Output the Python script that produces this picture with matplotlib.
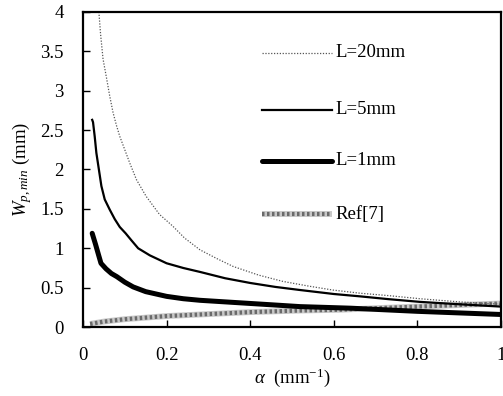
import matplotlib
matplotlib.use("Agg")
import matplotlib.pyplot as plt

plt.rcParams['font.family'] = ['Liberation Serif', 'DejaVu Serif']
plt.rcParams['mathtext.fontset'] = 'custom'
plt.rcParams['mathtext.rm'] = 'Liberation Serif'
plt.rcParams['mathtext.it'] = 'Liberation Serif:italic'

# ---- data ----
x_l20 = [0.038, 0.042, 0.048, 0.056, 0.064, 0.072, 0.08, 0.088, 0.10, 0.112, 0.128, 0.151,
         0.183, 0.215, 0.243, 0.28, 0.32, 0.359, 0.42, 0.478, 0.54, 0.598, 0.663, 0.73,
         0.806, 0.90, 1.0]
y_l20 = [4.0, 3.72, 3.40, 3.17, 2.93, 2.72, 2.56, 2.42, 2.25, 2.08, 1.87, 1.66,
         1.43, 1.28, 1.13, 0.98, 0.87, 0.77, 0.66, 0.58, 0.52, 0.47, 0.43, 0.40,
         0.36, 0.32, 0.29]

x_l5 = [0.022, 0.024, 0.028, 0.032, 0.038, 0.044, 0.052, 0.064, 0.076, 0.088, 0.102, 0.116,
        0.132, 0.16, 0.2, 0.24, 0.28, 0.34, 0.40, 0.46, 0.52, 0.6, 0.663, 0.73,
        0.806, 0.9, 1.0]
y_l5 = [2.63, 2.60, 2.42, 2.21, 2.0, 1.79, 1.62, 1.49, 1.37, 1.27, 1.19, 1.10,
        1.0, 0.91, 0.81, 0.75, 0.70, 0.62, 0.56, 0.51, 0.47, 0.42, 0.39, 0.355,
        0.32, 0.29, 0.26]

x_l1 = [0.022, 0.03, 0.037, 0.043, 0.055, 0.068, 0.081, 0.1, 0.12, 0.15, 0.2, 0.24,
        0.28, 0.34, 0.40, 0.46, 0.519, 0.58, 0.64, 0.72, 0.80, 0.9, 1.0]
y_l1 = [1.19, 1.05, 0.92, 0.81, 0.74, 0.68, 0.64, 0.57, 0.51, 0.45, 0.39, 0.36,
        0.34, 0.32, 0.30, 0.28, 0.26, 0.25, 0.24, 0.22, 0.20, 0.18, 0.16]

x_ref = [0.017, 0.05, 0.1, 0.15, 0.2, 0.28, 0.4, 0.519, 0.615, 0.7, 0.8, 0.9, 1.0]
y_ref = [0.04, 0.07, 0.10, 0.12, 0.14, 0.16, 0.19, 0.21, 0.22, 0.24, 0.26, 0.28, 0.30]

xticks = [0, 0.2, 0.4, 0.6, 0.8, 1]
xticklabels = ['0', '0.2', '0.4', '0.6', '0.8', '1']
yticks = [0, 0.5, 1, 1.5, 2, 2.5, 3, 3.5, 4]
yticklabels = ['0', '0.5', '1', '1.5', '2', '2.5', '3', '3.5', '4']

legend_labels = ['L=20mm', 'L=5mm', 'L=1mm', 'Ref[7]']
legend_y = [3.48, 2.76, 2.11, 1.43]

# ---- figure ----
fig = plt.figure(figsize=(5.03, 3.96), dpi=100)
ax = fig.add_axes([0.165, 0.174, 0.831, 0.796])


def ref_style(xs, ys):
    ax.plot(xs, ys, color='#c8c8c8', lw=4.2, solid_capstyle='butt')
    ax.plot(xs, ys, color='#6a6a6a', lw=3.0, linestyle=(0, (0.6, 0.6)))


ref_style(x_ref, y_ref)
ax.plot(x_l20, y_l20, color='#555555', lw=0.9, linestyle=(0, (1, 1.3)))
ax.plot(x_l5, y_l5, color='black', lw=1.6)
ax.plot(x_l1, y_l1, color='black', lw=3.6, solid_capstyle='round')

# legend drawn by hand, like the original
lx = [0.428, 0.596]
ax.plot(lx, [legend_y[0]] * 2, color='#555555', lw=0.9, linestyle=(0, (1, 1.3)))
ax.plot(lx, [legend_y[1]] * 2, color='black', lw=1.6)
ax.plot(lx, [legend_y[2]] * 2, color='black', lw=3.6, solid_capstyle='round')
ref_style(lx, [legend_y[3]] * 2)
for lab, yy in zip(legend_labels, legend_y):
    ax.text(0.603, yy, lab, fontsize=13.5, va='center', ha='left')

ax.set_xlim(0, 1)
ax.set_ylim(0, 4)
ax.set_xticks(xticks)
ax.set_xticklabels(xticklabels)
ax.set_yticks(yticks)
ax.set_yticklabels(yticklabels)
ax.tick_params(axis='both', direction='in', length=5, width=1, labelsize=13.5)
ax.tick_params(axis='x', pad=14)
ax.tick_params(axis='y', pad=14)
for s in ax.spines.values():
    s.set_linewidth(1.6)

ax.set_xlabel(r'$\alpha$  (mm$^{\mathrm{-1}}$)', fontsize=13.5, labelpad=2)
ax.set_ylabel(r'$W_{p,min}$ (mm)', fontsize=13.5, labelpad=4)

fig.savefig('out.png', dpi=100)
